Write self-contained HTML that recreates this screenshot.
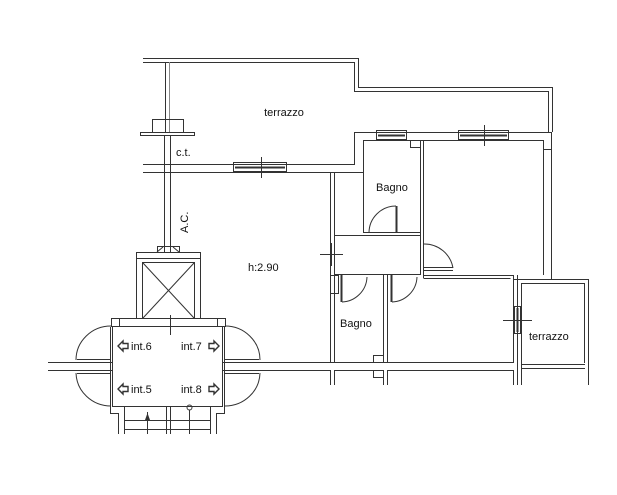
<!DOCTYPE html>
<html><head><meta charset="utf-8"><style>
html,body{margin:0;padding:0;background:#fff;}
svg{display:block;}
text{font-family:"Liberation Sans",Arial,sans-serif;font-size:11px;fill:#111;}
</style></head><body>
<svg width="617" height="495" viewBox="0 0 617 495" xmlns="http://www.w3.org/2000/svg">
<g fill="none" stroke="#333" stroke-width="1">
<!-- top terrazzo -->
<polyline points="143,58.5 358.5,58.5 358.5,87.5 552.5,87.5 552.5,132"/>
<polyline points="143,62.5 354.5,62.5 354.5,91.5 548.5,91.5 548.5,132"/>
<line x1="165.5" y1="62" x2="165.5" y2="132"/><line x1="169.5" y1="62" x2="169.5" y2="132" stroke="#888"/>
<rect x="152.5" y="119.5" width="31" height="13"/>
<rect x="140.5" y="132.5" width="54" height="3"/>
<!-- AC shaft -->
<line x1="164.5" y1="135" x2="164.5" y2="253"/><line x1="170.5" y1="135" x2="170.5" y2="253"/>
<!-- wall under terrazzo -->
<polyline points="143,164.5 354.5,164.5 354.5,132.5 552,132.5"/>
<polyline points="143,172.5 363.5,172.5 363.5,140.5 543.5,140.5"/>
<line x1="543.5" y1="140" x2="543.5" y2="275"/><line x1="551.5" y1="132" x2="551.5" y2="279"/>
<line x1="543" y1="149.5" x2="552" y2="149.5"/>
<!-- windows -->
<rect x="233.5" y="162.5" width="53" height="9"/><line x1="235" y1="167.5" x2="285" y2="167.5" stroke-width="2"/>
<line x1="261.5" y1="157" x2="261.5" y2="178"/>
<rect x="376.5" y="130.5" width="30" height="9"/><line x1="378" y1="135.5" x2="405" y2="135.5" stroke-width="2"/>
<rect x="458.5" y="130.5" width="50" height="9"/><line x1="460" y1="135.5" x2="507" y2="135.5" stroke-width="2"/>
<line x1="484.5" y1="125" x2="484.5" y2="146"/>
<!-- apartment left wall -->
<line x1="330.5" y1="173" x2="330.5" y2="362"/><line x1="334.5" y1="173" x2="334.5" y2="362"/>
<!-- bagno top -->
<polyline points="363.5,173 363.5,232.5 420.5,232.5"/>
<line x1="420.5" y1="140" x2="420.5" y2="275"/><line x1="423.5" y1="140" x2="423.5" y2="278"/>
<rect x="410.5" y="140.5" width="10" height="7"/>
<!-- bagno door -->
<line x1="396.5" y1="206" x2="396.5" y2="232" stroke-width="2"/>
<path d="M396,206 A27,27 0 0 0 369,233"/>
<!-- corridor -->
<polyline points="334.5,235.5 420.5,235.5"/>
<line x1="334" y1="274.5" x2="421" y2="274.5"/>
<polyline points="423.5,275.5 513.5,275.5 513.5,363"/>
<polyline points="423.5,278.5 510.5,278.5"/>
<!-- right room door -->
<path d="M424,244 A29,29 0 0 1 453,268"/>
<line x1="424" y1="267.5" x2="453" y2="267.5"/><line x1="424" y1="270.5" x2="453" y2="270.5"/>
<line x1="320" y1="254.5" x2="343" y2="254.5"/><line x1="331.5" y1="243" x2="331.5" y2="266"/>
<rect x="330.5" y="275.5" width="8" height="18"/>
<!-- lower bagno -->
<line x1="383.5" y1="275" x2="383.5" y2="363"/><line x1="387.5" y1="275" x2="387.5" y2="363"/>
<line x1="341.5" y1="275" x2="341.5" y2="302" stroke-width="2"/>
<path d="M342,302 A26,26 0 0 0 367,277"/>
<line x1="391.5" y1="275" x2="391.5" y2="302" stroke-width="2"/>
<path d="M392,302 A26,26 0 0 0 417,277"/>
<rect x="373.5" y="355.5" width="10" height="7"/>
<rect x="373.5" y="370.5" width="10" height="7"/>
<!-- right terrazzo -->
<polyline points="513.5,279.5 588.5,279.5 588.5,385"/>
<polyline points="521.5,283.5 584.5,283.5 584.5,363"/>
<line x1="521.5" y1="283" x2="521.5" y2="385"/><line x1="517.5" y1="275" x2="517.5" y2="385"/>
<rect x="514.5" y="306.5" width="6" height="27"/><line x1="517.5" y1="308" x2="517.5" y2="332" stroke-width="2"/>
<line x1="503" y1="320.5" x2="532" y2="320.5"/>
<line x1="521" y1="364.5" x2="585" y2="364.5"/><line x1="521" y1="368.5" x2="585" y2="368.5"/>
<!-- bottom walls -->
<line x1="48" y1="362.5" x2="112" y2="362.5"/><line x1="48" y1="370.5" x2="112" y2="370.5"/>
<line x1="223" y1="362.5" x2="513" y2="362.5"/><line x1="223" y1="370.5" x2="330" y2="370.5"/>
<line x1="334" y1="370.5" x2="383" y2="370.5"/><line x1="388" y1="370.5" x2="513" y2="370.5"/>
<line x1="330.5" y1="370" x2="330.5" y2="385"/><line x1="334.5" y1="370" x2="334.5" y2="385"/>
<line x1="383.5" y1="370" x2="383.5" y2="385"/><line x1="387.5" y1="370" x2="387.5" y2="385"/>
<line x1="513.5" y1="370" x2="513.5" y2="385"/>
<!-- stair shaft -->
<rect x="157.5" y="246.5" width="22" height="6"/>
<line x1="157" y1="252" x2="163" y2="247"/><line x1="179" y1="252" x2="173" y2="247"/>
<polyline points="136.5,318 136.5,252.5 200.5,252.5 200.5,318"/>
<line x1="136" y1="258.5" x2="200" y2="258.5"/>
<line x1="142.5" y1="262" x2="142.5" y2="318"/><line x1="194.5" y1="262" x2="194.5" y2="318"/>
<line x1="142" y1="262.5" x2="195" y2="262.5"/>
<line x1="143" y1="263" x2="194" y2="318"/><line x1="194" y1="263" x2="143" y2="318"/>
<!-- lobby -->
<rect x="111.5" y="318.5" width="114" height="8"/>
<line x1="119.5" y1="318" x2="119.5" y2="326"/><line x1="217.5" y1="318" x2="217.5" y2="326"/>
<line x1="170.5" y1="315" x2="170.5" y2="335"/>
<rect x="112.5" y="326.5" width="110" height="80"/>
<line x1="110.5" y1="327" x2="110.5" y2="413"/><line x1="224.5" y1="327" x2="224.5" y2="413"/>
<!-- lobby doors -->
<path d="M111,326 A35,34 0 0 0 76,360"/><line x1="77" y1="359.5" x2="111" y2="359.5"/>
<path d="M111,406 A35,34 0 0 1 76,373"/><line x1="77" y1="373.5" x2="111" y2="373.5"/>
<path d="M225,326 A35,34 0 0 1 260,360"/><line x1="225" y1="359.5" x2="259" y2="359.5"/>
<path d="M225,406 A35,34 0 0 0 260,373"/><line x1="225" y1="373.5" x2="259" y2="373.5"/>
<!-- stairs -->
<polyline points="110.5,407.5 110.5,413.5 118.5,413.5 118.5,434"/>
<polyline points="224.5,407.5 224.5,413.5 216.5,413.5 216.5,434"/>
<line x1="124.5" y1="407" x2="124.5" y2="434"/><line x1="210.5" y1="407" x2="210.5" y2="434"/>
<line x1="166.5" y1="407" x2="166.5" y2="434"/><line x1="170.5" y1="407" x2="170.5" y2="434"/>
<line x1="147.5" y1="412" x2="147.5" y2="434"/><line x1="189.5" y1="410" x2="189.5" y2="434"/>
<circle cx="189.5" cy="407.5" r="2.5"/>
<line x1="124" y1="420.5" x2="210" y2="420.5"/><line x1="124" y1="429.5" x2="210" y2="429.5"/>
<!-- arrows -->
<path d="M123,341 L118,346 L123,351 L123,348.5 L128,348.5 L128,343.5 L123,343.5 Z" stroke-width="1.4"/>
<path d="M123,384 L118,389 L123,394 L123,391.5 L128,391.5 L128,386.5 L123,386.5 Z" stroke-width="1.4"/>
<path d="M214,341 L219,346 L214,351 L214,348.5 L209,348.5 L209,343.5 L214,343.5 Z" stroke-width="1.4"/>
<path d="M214,384 L219,389 L214,394 L214,391.5 L209,391.5 L209,386.5 L214,386.5 Z" stroke-width="1.4"/>
</g>
<path d="M145,420 L147.5,413 L150,420 Z" fill="#333"/>
<text x="284" y="116" text-anchor="middle">terrazzo</text>
<text x="176" y="156">c.t.</text>
<text x="0" y="0" transform="translate(188,233) rotate(-90)">A.C.</text>
<text x="248" y="271">h:2.90</text>
<text x="376" y="191">Bagno</text>
<text x="340" y="327">Bagno</text>
<text x="529" y="340">terrazzo</text>
<text x="131" y="350">int.6</text>
<text x="181" y="350">int.7</text>
<text x="131" y="393">int.5</text>
<text x="181" y="393">int.8</text>
</svg>
</body></html>
